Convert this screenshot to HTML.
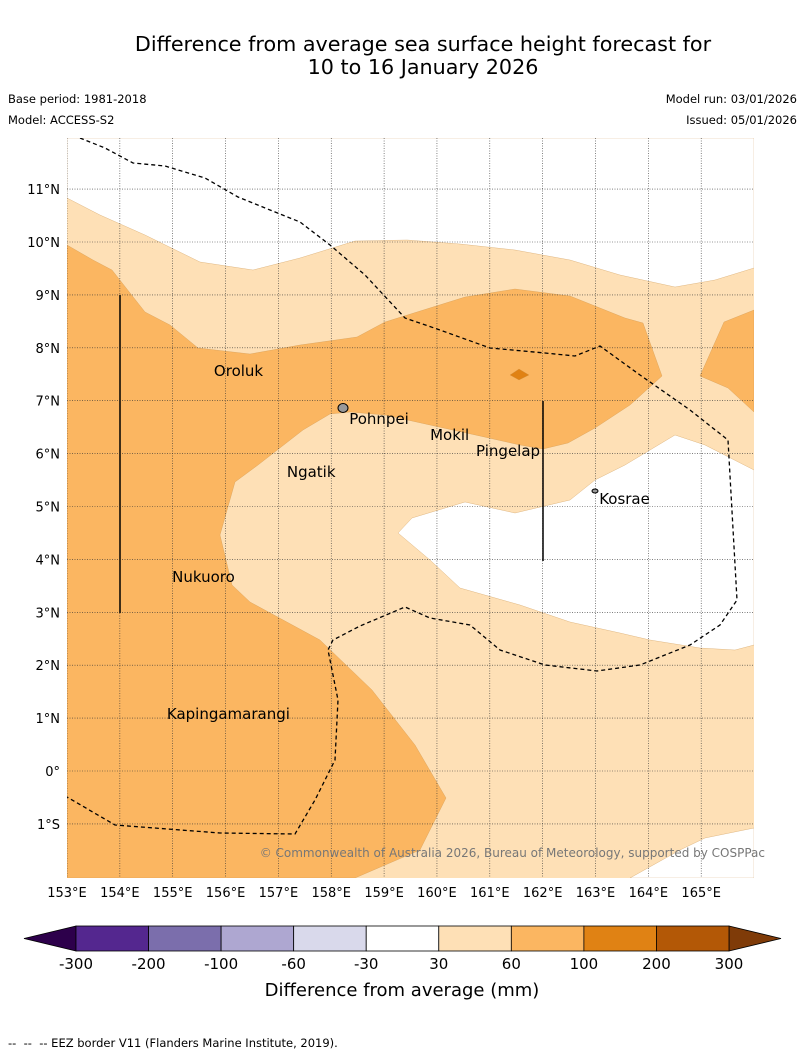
<!DOCTYPE html>
<html><head><meta charset="utf-8"><style>
body{margin:0;background:#fff;font-family:"Liberation Sans","DejaVu Sans",sans-serif}
</style></head><body>
<svg width="804" height="1058" viewBox="0 0 804 1058" xmlns="http://www.w3.org/2000/svg" font-family="DejaVu Sans, Liberation Sans, sans-serif">
<text x="423" y="51" font-size="20.7" text-anchor="middle">Difference from average sea surface height forecast for</text>
<text x="423" y="74" font-size="20.7" text-anchor="middle">10 to 16 January 2026</text>
<text x="8" y="103" font-size="11.5">Base period: 1981-2018</text>
<text x="8" y="124" font-size="11.5">Model: ACCESS-S2</text>
<text x="797" y="103" font-size="11.5" text-anchor="end">Model run: 03/01/2026</text>
<text x="797" y="124" font-size="11.5" text-anchor="end">Issued: 05/01/2026</text>
<defs><clipPath id="mc"><rect x="67" y="138" width="687" height="740"/></clipPath></defs>
<g id="map" clip-path="url(#mc)"></g>
<g id="labels"></g>
<text x="765" y="857" font-size="12" fill="#777" text-anchor="end">© Commonwealth of Australia 2026, Bureau of Meteorology, supported by COSPPac</text>
<g id="axes"></g>
<g id="cbar"></g>
<text x="402" y="996" font-size="18" text-anchor="middle">Difference from average (mm)</text>
<text x="8" y="1047" font-size="11.5">-- &#160;-- &#160;-- EEZ border V11 (Flanders Marine Institute, 2019).</text>
</svg>
<script>
const lonTicks=[153,154,155,156,157,158,159,160,161,162,163,164,165];
const latTicks=[11,10,9,8,7,6,5,4,3,2,1,0,-1];
const latLabels=["11°N","10°N","9°N","8°N","7°N","6°N","5°N","4°N","3°N","2°N","1°N","0°","1°S"];
const cbLevels=["-300","-200","-100","-60","-30","30","60","100","200","300"];
const cbColors=["#54278f","#7b6eac","#aea7d1","#d9d9eb","#ffffff","#fee0b6","#fbb661","#e08214","#b35806"];
const islands=[["Oroluk",155.78,7.56],["Pohnpei",158.34,6.65],["Mokil",159.87,6.35],["Pingelap",160.74,6.05],["Kosrae",163.07,5.14],["Ngatik",157.16,5.65],["Nukuoro",154.99,3.67],["Kapingamarangi",154.89,1.08]];
const X=lon=>67+(lon-153)*52.85, Y=lat=>771-lat*52.9;
const NS="http://www.w3.org/2000/svg";
function el(t,a,p){const e=document.createElementNS(NS,t);for(const k in a)e.setAttribute(k,a[k]);p.appendChild(e);return e;}
const P=pts=>pts.map(p=>p.join(",")).join(" ");
const map=document.getElementById("map");
let r=el("rect",{x:67,y:138,width:687,height:740,fill:"#fee0b6"},map);

const polys=[
["white-top-region","#ffffff",[[67,138],[754,138],[754,268],[715,280],[675,287],[620,275],[570,260],[515,250],[460,244],[407,240],[355,241],[300,258],[253,270],[200,262],[145,235],[100,215],[67,198]]],
["white-east-region","#ffffff",[[398,533],[412,518],[465,502],[515,513],[570,500],[595,480],[625,465],[675,435],[705,445],[754,470],[754,645],[735,650],[700,648],[650,640],[620,633],[570,622],[520,605],[460,588],[430,560]]],
["white-southeast-region","#ffffff",[[630,878],[680,850],[705,838],[754,828],[754,878]]],
["orange-main-region","#fbb661",[[67,245],[93,260],[112,270],[145,312],[170,325],[198,348],[250,354],[300,345],[357,337],[385,322],[465,297],[515,289],[570,296],[625,318],[643,323],[662,376],[630,405],[595,428],[568,443],[543,449],[520,445],[480,436],[430,425],[385,415],[350,412],[330,414],[303,430],[258,465],[235,482],[220,535],[232,585],[250,602],[320,640],[372,690],[415,745],[446,798],[420,850],[355,878],[67,878]]],
["orange-east-region","#fbb661",[[700,376],[724,322],[754,310],[754,412],[728,388]]],
["dark-orange-blob","#e08214",[[510,375],[519,369],[529,375],[519,380]]]];
polys.forEach(p=>{const e=el("polygon",{points:P(p[2]),fill:p[1],stroke:"#c9924a","stroke-width":0.3},map);

});
lonTicks.forEach(l=>{const e=el("line",{x1:X(l),x2:X(l),y1:138,y2:878,stroke:"#333","stroke-width":0.6,"stroke-dasharray":"1,1.5"},map);

});
latTicks.forEach(l=>{const e=el("line",{x1:67,x2:754,y1:Y(l),y2:Y(l),stroke:"#333","stroke-width":0.6,"stroke-dasharray":"1,1.5"},map);

});
const eez=[[80,138],[105,148],[133,163],[165,166],[205,178],[238,197],[270,210],[300,222],[330,245],[365,275],[405,318],[440,330],[490,348],[545,353],[575,356],[600,346],[640,375],[690,410],[728,440],[737,600],[720,625],[690,645],[640,665],[597,671],[545,665],[500,650],[470,625],[430,618],[405,607],[360,626],[333,640],[328,650],[338,700],[335,760],[315,800],[295,834],[220,833],[115,825],[67,797]];
let e2=el("polyline",{points:P(eez),fill:"none",stroke:"#000","stroke-width":1.3,"stroke-dasharray":"4,3"},map);


[[120,295,120,613],[543,401,543,561]].forEach(v=>{const e=el("line",{x1:v[0],y1:v[1],x2:v[2],y2:v[3],stroke:"#000","stroke-width":1.5},map);

});
let pe=el("ellipse",{cx:343,cy:408,rx:5,ry:4.5,fill:"#999",stroke:"#000","stroke-width":1},map);


let ks=el("ellipse",{cx:595,cy:491,rx:3,ry:2,fill:"#999",stroke:"#000","stroke-width":1},map);


const lab=document.getElementById("labels");
islands.forEach(d=>{const t=el("text",{x:X(d[1]),y:Y(d[2])+5,"font-size":15},lab);t.textContent=d[0];

});
const ax=document.getElementById("axes");
lonTicks.forEach(l=>{const t=el("text",{x:X(l),y:897,"font-size":13,"text-anchor":"middle"},ax);t.textContent=l+"°E";

});
latTicks.forEach((l,i)=>{const t=el("text",{x:60,y:Y(l)+5,"font-size":13,"text-anchor":"end"},ax);t.textContent=latLabels[i];

});
const cb=document.getElementById("cbar");
const x0=76,x1=729,w=(x1-x0)/cbColors.length,y0=926,y1=951;
let la=el("polygon",{points:P([[24,938.5],[x0,y0],[x0,y1]]),fill:"#2d004b",stroke:"#000","stroke-width":0.8},cb);


let ra=el("polygon",{points:P([[781,938.5],[x1,y0],[x1,y1]]),fill:"#7f3b08",stroke:"#000","stroke-width":0.8},cb);


cbColors.forEach((c,i)=>{const e=el("rect",{x:x0+i*w,y:y0,width:w,height:y1-y0,fill:c,stroke:"#000","stroke-width":0.8},cb);

});
cbLevels.forEach((s,i)=>{const t=el("text",{x:x0+i*w,y:969,"font-size":15,"text-anchor":"middle"},cb);t.textContent=s;

});
</script>
</body></html>
